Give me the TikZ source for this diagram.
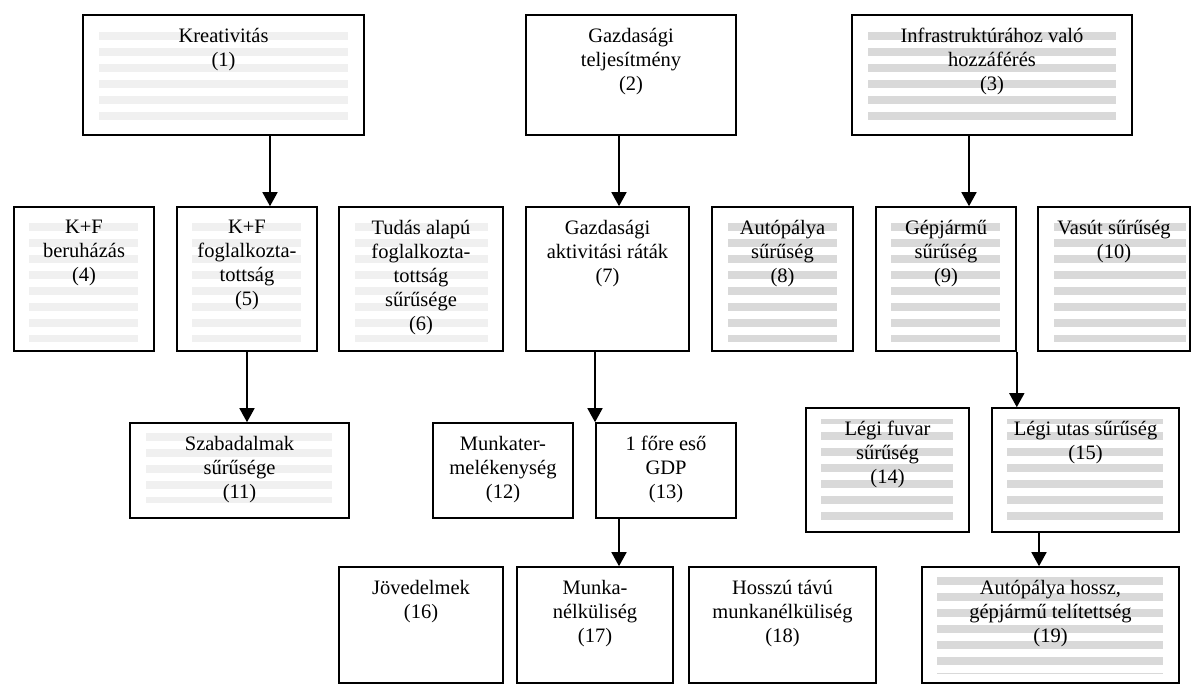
\documentclass[tikz,border=0pt]{standalone}
\usepackage{fontspec}
\setmainfont{Liberation Serif}
\usetikzlibrary{arrows.meta,positioning}
\tikzset{
    box/.style={draw, line width=1.6pt, inner sep=0pt},
    txt/.style={anchor=north, align=center, inner sep=0pt,
        font=\fontsize{20.5}{24}\selectfont,
        execute at begin node=\rule{0pt}{16pt}},
    arr/.style={line width=1.6pt, -{Triangle[width=15pt,length=14pt]}},
    lightrow/.style={fill=black!6},
    darkrow/.style={fill=black!15}
}
% grey bands behind the text of a box
\newcommand{\rowfill}[6]{% style, x1, x2, first band, clip top, clip bottom
    \begin{scope}
        \clip (#2,#5) rectangle (#3,#6);
        \foreach \k in {0,...,8}
            \path[#1] (#2,#4+16*\k) rectangle (#3,#4+16*\k+8);
    \end{scope}}

\begin{document}
\begin{tikzpicture}[x=1pt,y=-1pt]
    \useasboundingbox (0,0) rectangle (1192,685);

    % bands
    \rowfill{lightrow}{99}{348}{32}{32}{120}
    \rowfill{darkrow}{868}{1116}{32}{32}{120}
    \rowfill{lightrow}{29}{138}{223}{223}{341}
    \rowfill{lightrow}{192}{301}{223}{223}{341}
    \rowfill{lightrow}{355}{488}{223}{223}{341}
    \rowfill{darkrow}{728}{837}{223}{223}{341}
    \rowfill{darkrow}{891}{1000}{223}{223}{341}
    \rowfill{darkrow}{1054}{1186}{223}{223}{341}
    \rowfill{lightrow}{146}{332}{433}{433}{502}
    \rowfill{darkrow}{821}{953}{416}{419}{520}
    \rowfill{darkrow}{1007}{1163}{416}{419}{520}
    \rowfill{darkrow}{937}{1163}{577}{577}{673}

    % boxes
    \node[box, minimum width=281, minimum height=120] (b1) at (223.5,75) {};
    \node[box, minimum width=210, minimum height=120] (b2) at (631,75) {};
    \node[box, minimum width=280, minimum height=120] (b3) at (992,75) {};

    \node[box, minimum width=140, minimum height=144] (b4) at (84,279) {};
    \node[box, minimum width=140, minimum height=144] (b5) at (247,279) {};
    \node[box, minimum width=164, minimum height=144] (b6) at (421,279) {};
    \node[box, minimum width=163, minimum height=144] (b7) at (607.5,279) {};
    \node[box, minimum width=141, minimum height=144] (b8) at (782.5,279) {};
    \node[box, minimum width=140, minimum height=144] (b9) at (946,279) {};
    \node[box, minimum width=152, minimum height=144] (b10) at (1114,279) {};

    \node[box, minimum width=219, minimum height=95] (b11) at (239.5,470.5) {};
    \node[box, minimum width=140, minimum height=95] (b12) at (503,470.5) {};
    \node[box, minimum width=140, minimum height=95] (b13) at (666,470.5) {};
    \node[box, minimum width=163, minimum height=124] (b14) at (887.5,470) {};
    \node[box, minimum width=187, minimum height=124] (b15) at (1085.5,470) {};

    \node[box, minimum width=164, minimum height=116] (b16) at (421,625) {};
    \node[box, minimum width=156, minimum height=116] (b17) at (595,625) {};
    \node[box, minimum width=187, minimum height=116] (b18) at (782.5,625) {};
    \node[box, minimum width=257, minimum height=116] (b19) at (1050.5,625) {};

    % texts
    \node[txt] (t1) at ([yshift=-14]b1.north) {Kreativitás\\(1)};
    \node[txt] (t2) at ([yshift=-14]b2.north) {Gazdasági\\teljesítmény\\(2)};
    \node[txt] (t3) at ([yshift=-14]b3.north) {Infrastruktúrához való\\hozzáférés\\(3)};
    \node[txt] (t4) at ([yshift=-14]b4.north) {K+F\\beruházás\\(4)};
    \node[txt] (t5) at ([yshift=-14]b5.north) {K+F\\foglalkozta-\\tottság\\(5)};
    \node[txt] (t6) at ([yshift=-14]b6.north) {Tudás alapú\\foglalkozta-\\tottság\\sűrűsége\\(6)};
    \node[txt] (t7) at ([yshift=-14]b7.north) {Gazdasági\\aktivitási ráták\\(7)};
    \node[txt] (t8) at ([yshift=-14]b8.north) {Autópálya\\sűrűség\\(8)};
    \node[txt] (t9) at ([yshift=-14]b9.north) {Gépjármű\\sűrűség\\(9)};
    \node[txt] (t10) at ([yshift=-14]b10.north) {Vasút sűrűség\\(10)};
    \node[txt] (t11) at ([yshift=-14]b11.north) {Szabadalmak\\sűrűsége\\(11)};
    \node[txt] (t12) at ([yshift=-14]b12.north) {Munkater-\\melékenység\\(12)};
    \node[txt] (t13) at ([yshift=-14]b13.north) {1 főre eső\\GDP\\(13)};
    \node[txt] (t14) at ([yshift=-14]b14.north) {Légi fuvar\\sűrűség\\(14)};
    \node[txt] (t15) at ([yshift=-14]b15.north) {Légi utas sűrűség\\(15)};
    \node[txt] (t16) at ([yshift=-14]b16.north) {Jövedelmek\\(16)};
    \node[txt] (t17) at ([yshift=-14]b17.north) {Munka-\\nélküliség\\(17)};
    \node[txt] (t18) at ([yshift=-14]b18.north) {Hosszú távú\\munkanélküliség\\(18)};
    \node[txt] (t19) at ([yshift=-14]b19.north) {Autópálya hossz,\\gépjármű telítettség\\(19)};

    % arrows
    \coordinate (p1) at ([xshift=46.5]b1.south);
    \coordinate (p2) at ([xshift=-12]b2.south);
    \coordinate (p3) at ([xshift=-23]b3.south);
    \coordinate (p5) at (b5.south);
    \coordinate (p7) at ([xshift=-12.5]b7.south);
    \coordinate (p9) at (b9.south east);
    \coordinate (p13) at ([xshift=-47]b13.south);
    \coordinate (p15) at ([xshift=-46.5]b15.south);
    \draw[arr] (p1) -- (p1 |- b5.north);
    \draw[arr] (p2) -- (p2 |- b7.north);
    \draw[arr] (p3) -- (p3 |- b9.north);
    \draw[arr] (p5) -- (p5 |- b11.north);
    \draw[arr] (p7) -- (p7 |- b13.north);
    \draw[arr] (p9) -- (p9 |- b15.north);
    \draw[arr] (p13) -- (p13 |- b17.north);
    \draw[arr] (p15) -- (p15 |- b19.north);
\end{tikzpicture}
\end{document}
